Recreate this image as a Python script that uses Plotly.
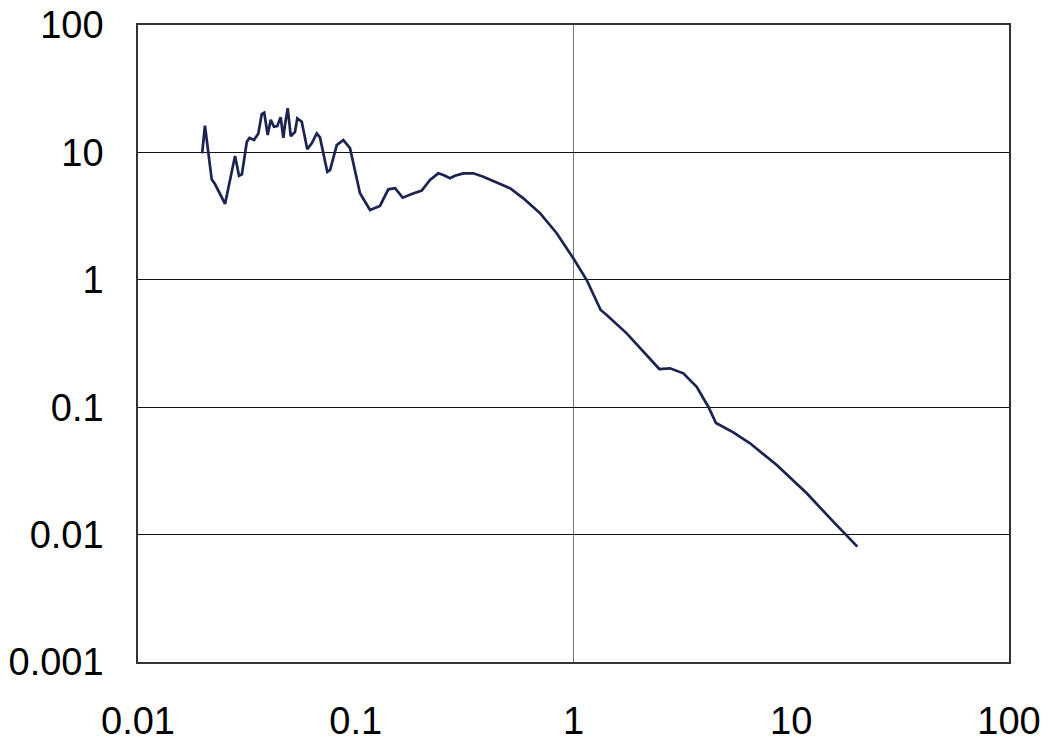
import plotly.graph_objects as go

x_vals = [0.0197, 0.0203, 0.0218, 0.0226, 0.0251, 0.0265, 0.0279, 0.0291, 0.0300, 0.0316,
          0.0325, 0.0341, 0.0357, 0.0370, 0.0380, 0.0394, 0.0407, 0.0421, 0.0436, 0.0452,
          0.0465, 0.0473, 0.0487, 0.0503, 0.0526, 0.0539, 0.0565, 0.0599, 0.0628, 0.0662,
          0.0685, 0.0740, 0.0762, 0.0818, 0.0877, 0.0941, 0.1046, 0.1163, 0.1292, 0.1411,
          0.1515, 0.1643, 0.1807, 0.2009, 0.2193, 0.2393, 0.2524, 0.2709, 0.2856, 0.3119,
          0.3467, 0.3853, 0.4441, 0.5110, 0.5884, 0.7018, 0.8372, 0.998, 1.150, 1.333,
          1.420, 1.755, 2.478, 2.775, 3.194, 3.679, 4.160, 4.511, 5.418, 6.465,
          8.575, 11.78, 15.60, 20.11]
y_vals = [9.84, 16.2, 6.15, 5.62, 3.94, 6.07, 9.37, 6.56, 6.73, 12.1,
          13.0, 12.5, 14.1, 20.0, 20.5, 13.7, 18.0, 15.9, 16.1, 18.9,
          13.0, 16.4, 22.2, 13.4, 14.5, 18.5, 17.4, 10.6, 11.8, 14.1,
          13.1, 7.05, 7.27, 11.4, 12.5, 10.8, 4.78, 3.53, 3.80, 5.13,
          5.23, 4.41, 4.72, 5.01, 6.07, 6.85, 6.65, 6.26, 6.56, 6.85,
          6.85, 6.45, 5.78, 5.23, 4.36, 3.33, 2.32, 1.475, 0.996, 0.579,
          0.529, 0.380, 0.1994, 0.202, 0.1845, 0.1448, 0.1009, 0.0752, 0.0635, 0.0521,
          0.0352, 0.0211, 0.01263, 0.00804]

x_ticks = [0.01, 0.1, 1, 10, 100]
x_labels = ["0.01", "0.1", "1", "10", "100"]
y_ticks = [0.001, 0.01, 0.1, 1, 10, 100]
y_labels = ["0.001", "0.01", "0.1", "1", "10", "100"]

fig = go.Figure()
fig.add_trace(go.Scatter(x=x_vals, y=y_vals, mode="lines",
                         line=dict(color="#1b2352", width=2.7), showlegend=False))

fig.add_shape(type="line", xref="x", yref="paper", x0=1, x1=1, y0=0, y1=1,
              line=dict(color="#777777", width=1), layer="below")

fig.update_layout(
    width=1050, height=745,
    margin=dict(l=138, r=41, t=25, b=83, autoexpand=False),
    paper_bgcolor="white", plot_bgcolor="white",
    font=dict(family="Liberation Sans, Arial, sans-serif", size=38, color="black"),
)
fig.update_xaxes(type="log", range=[-2, 2], tickvals=x_ticks, ticktext=x_labels,
                 showgrid=False, zeroline=False, showline=True, mirror=True,
                 linecolor="#333333", linewidth=1.5, ticks="", ticklabelstandoff=25,
                 automargin=False)
fig.update_yaxes(type="log", range=[-3, 2], tickvals=y_ticks, ticktext=y_labels,
                 showgrid=True, gridcolor="#111111", gridwidth=1, zeroline=False,
                 showline=True, mirror=True, linecolor="#333333", linewidth=1.5,
                 ticks="", ticklabelstandoff=25, automargin=False)

fig.write_html("out.html")
